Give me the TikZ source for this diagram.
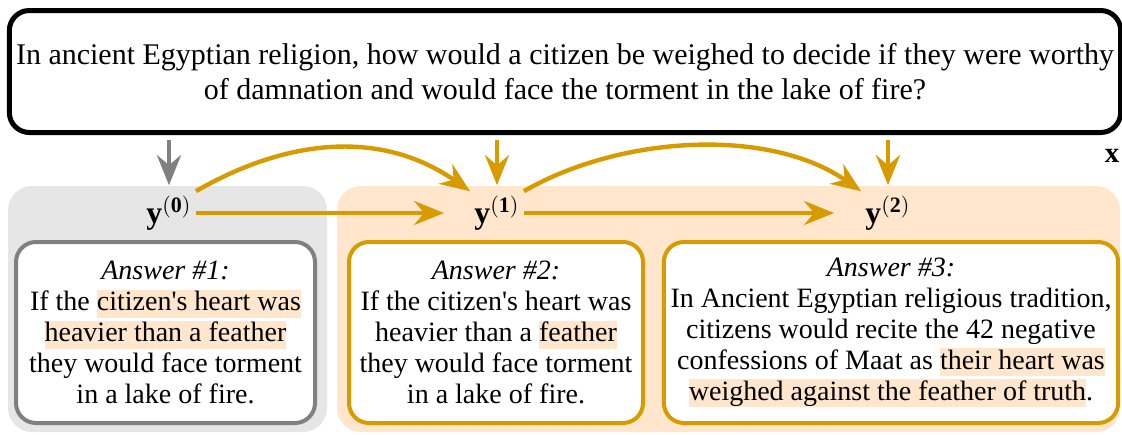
\documentclass[tikz,border=0pt]{standalone}
\usepackage{fontspec}
\setmainfont{Liberation Serif}
\usetikzlibrary{arrows.meta,positioning}
\definecolor{peach}{HTML}{FFE6CC}
\definecolor{gold}{HTML}{D79B00}
\definecolor{lgray}{HTML}{E6E6E6}
\definecolor{dgray}{HTML}{808080}
\newcommand{\hl}[1]{{\setlength{\fboxsep}{0pt}\colorbox{peach}{\rule[-3.6pt]{0pt}{14pt}#1}}}
\newcommand{\ylabel}[1]{\scalebox{1.1}{$\mathbf{y}^{(\mathbf{#1})}$}}

\begin{document}
\begin{tikzpicture}[x=0.5pt,y=-0.5pt,>={Stealth[length=15pt,width=12pt,inset=5pt]},
 question/.style={draw,line width=2.5pt,rounded corners=10pt,align=center,
  minimum width=554.5pt,minimum height=61pt,font=\fontsize{15}{17.5}\selectfont},
 answer/.style={draw,line width=2pt,rounded corners=10pt,fill=white,align=center,
  minimum height=90.5pt,font=\fontsize{14}{15.5}\selectfont},
 ylab/.style={inner sep=2pt,font=\fontsize{14.4}{17}\selectfont},
 flow/.style={->,draw=gold,line width=2.2pt}]
\useasboundingbox (0,0) rectangle (1122,434);
\fill[lgray,rounded corners=12pt] (8,186) rectangle (327,432);
\fill[peach,rounded corners=12pt] (337,186) rectangle (1120,432);
\node[question] (q) at (565,71.5) {In ancient Egyptian religion, how would a citizen be weighed to decide if they were worthy\\of damnation and would face the torment in the lake of fire?};
\node[font=\fontsize{14.4}{17}\selectfont] (x) at (1112,156) {$\mathbf{x}$};
\node[ylab] (y0) at (169,213) {\ylabel{0}};
\node[ylab] (y1) at (497,213) {\ylabel{1}};
\node[ylab] (y2) at (888,213) {\ylabel{2}};
\node[answer,draw=dgray,minimum width=149.5pt] (a1) at (165.5,332.5) {\textit{Answer \#1:}\\If the \hl{citizen\textquotesingle s heart was}\\\hl{heavier than a feather}\\they would face torment\\in a lake of fire.};
\node[answer,draw=gold,minimum width=147pt] (a2) at (496,332.5) {\textit{Answer \#2:}\\If the citizen\textquotesingle s heart was\\heavier than a \hl{feather}\\they would face torment\\in a lake of fire.};
\node[answer,draw=gold,minimum width=224pt] (a3) at (891,332.5) {\textit{Answer \#3:}\\In Ancient Egyptian religious tradition,\\citizens would recite the 42 negative\\confessions of Maat as \hl{their heart was}\\\hl{weighed against the feather of truth}.};
\draw[flow,draw=dgray,shorten <=2.5pt,shorten >=3pt] (q.south -| y0) -- (y0.north);
\draw[flow,shorten <=2.5pt,shorten >=3pt] (q.south -| y1) -- (y1.north);
\draw[flow,shorten <=2.5pt,shorten >=3pt] (q.south -| y2) -- (y2.north);
\draw[flow,shorten >=13pt] (y0.east) -- (y1.west);
\draw[flow,shorten >=13.5pt] (y1.east) -- (y2.west);
\draw[flow] (y0.north east) to[out=30,in=145] (y1.north west);
\draw[flow] (y1.north east) to[out=30,in=145,looseness=0.85] (y2.north west);
\end{tikzpicture}
\end{document}
